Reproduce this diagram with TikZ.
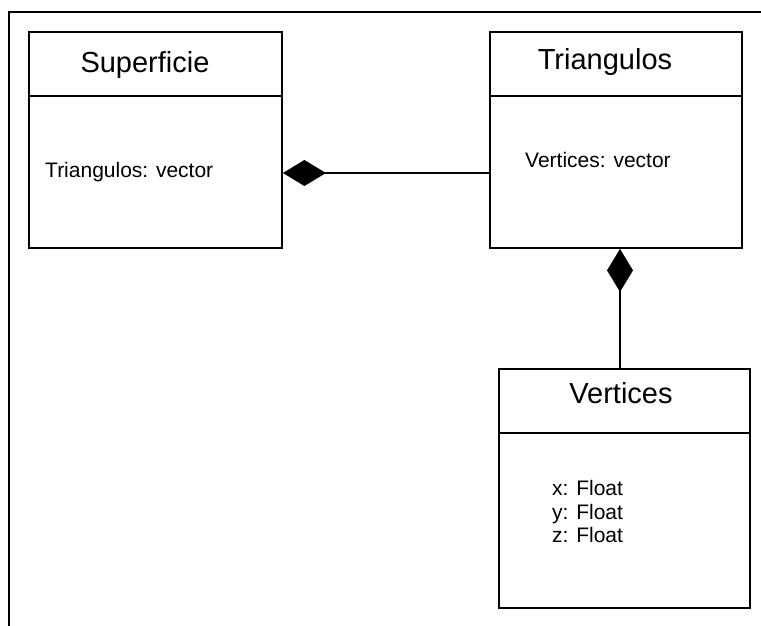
\documentclass[tikz,border=0pt]{standalone}
\usepackage{fontspec}
\setmainfont{Liberation Sans}
\usetikzlibrary{arrows.meta}

\begin{document}
\begin{tikzpicture}[x=1pt,y=-1pt,
    clase/.style={draw, line width=1.8pt, inner sep=0pt},
    titulo/.style={font=\fontsize{29}{34}\selectfont, inner sep=0pt, anchor=base},
    atributo/.style={font=\fontsize{21}{25}\selectfont, inner sep=0pt, anchor=base west},
    comp/.style={line width=1.5pt, -{Diamond[length=43pt,width=26pt]}}]
        \useasboundingbox (0,0) rectangle (761,626);

        % Marco
        \draw[line width=1.8pt] (9,626) -- (9,12) -- (761,12);

        % Clases
        \node[clase, minimum width=253pt, minimum height=216pt] (sup) at (155.5,140) {};
        \node[clase, minimum width=252pt, minimum height=216pt] (tri) at (616,140) {};
        \node[clase, minimum width=251pt, minimum height=239pt] (ver) at (624.5,488.5) {};

        % Divisiones
        \draw[line width=1.8pt] ([yshift=-65pt]sup.north west) -- ([yshift=-65pt]sup.north east);
        \draw[line width=1.8pt] ([yshift=-65pt]tri.north west) -- ([yshift=-65pt]tri.north east);
        \draw[line width=1.8pt] ([yshift=-65pt]ver.north west) -- ([yshift=-65pt]ver.north east);

        % Nombres
        \node[titulo] (supNombre) at (145,73) {Superficie};
        \node[titulo] (triNombre) at (605,70) {Triangulos};
        \node[titulo] (verNombre) at (621,403) {Vertices};

        % Atributos
        \node[atributo] (supAttr) at (45,177) {Triangulos: vector};
        \node[atributo] (triAttr) at (525,167) {Vertices: vector};
        \node[atributo] (verX) at (552,495) {x: Float};
        \node[atributo] (verY) at (552,519) {y: Float};
        \node[atributo] (verZ) at (552,542) {z: Float};

        % Composiciones
        \coordinate (vx) at (620,0);
        \draw[comp] ([yshift=-33pt]tri.west) -- ([yshift=-33pt]sup.east);
        \draw[comp] (ver.north -| vx) -- (tri.south -| vx);
    \end{tikzpicture}
\end{document}
